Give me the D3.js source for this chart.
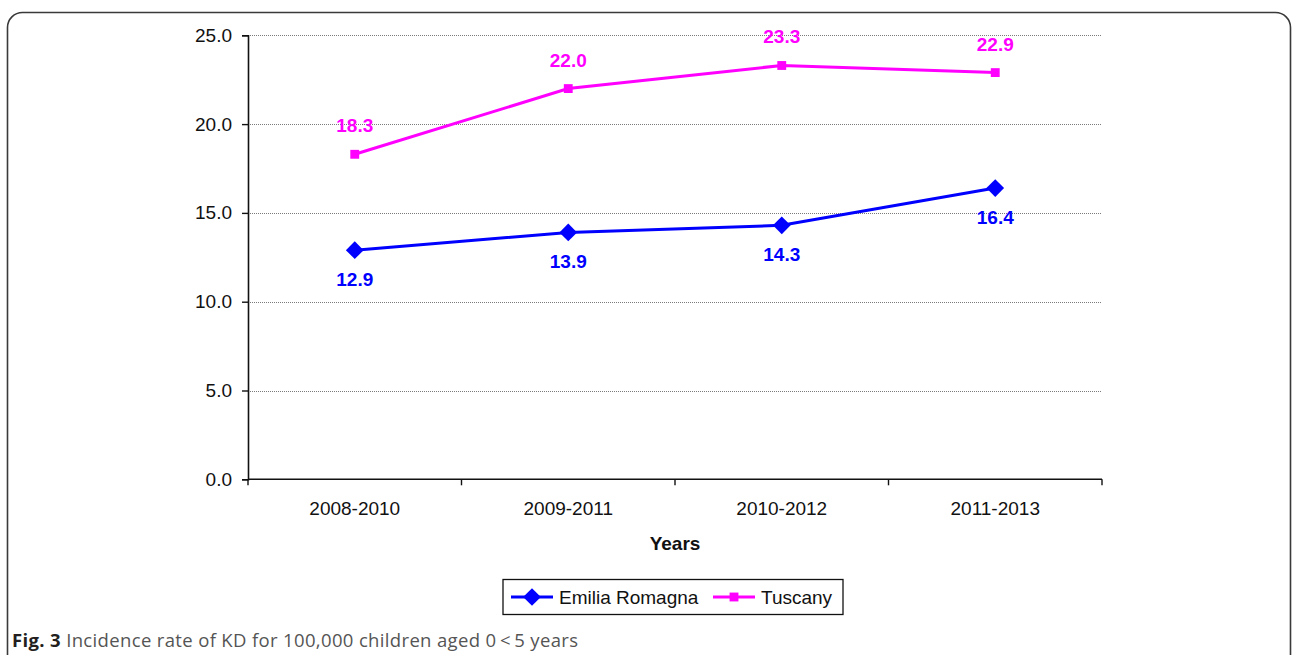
<!DOCTYPE html>
<html>
<head>
<meta charset="utf-8">
<script src="https://cdn.jsdelivr.net/npm/d3@7"></script>
<style>
  html, body { margin: 0; padding: 0; background: #fff; }
  svg { display: block; }
</style>
</head>
<body>
<svg id="chart" width="1292" height="655"></svg>
<script>
// Incidence of KD per 100,000 children aged 0 < 5 years, three-year moving windows
const periods = ["2008-2010", "2009-2011", "2010-2012", "2011-2013"];
const emiliaRomagna = [12.9, 13.9, 14.3, 16.4];
const tuscany = [18.3, 22.0, 23.3, 22.9];
const yTicks = [0, 5, 10, 15, 20, 25];
const seriesNames = ["Emilia Romagna", "Tuscany"];

const svg = d3.select("#chart");
const font = "'Liberation Sans', Arial, Helvetica, sans-serif";

// rounded figure frame
svg.append("rect")
  .attr("x", 7.5).attr("y", 12.5)
  .attr("width", 1283).attr("height", 700)
  .attr("rx", 15).attr("ry", 15)
  .attr("fill", "none")
  .attr("stroke", "#3a3a3a")
  .attr("stroke-width", 1.6);

const plot = { left: 248, right: 1102, top: 35.3, bottom: 479.3 };

const x = d3.scaleBand().domain(periods).range([plot.left, plot.right]).padding(0);
const y = d3.scaleLinear().domain([0, 25]).range([plot.bottom, plot.top]);

// dotted horizontal gridlines
svg.append("g")
  .selectAll("line")
  .data(yTicks.filter(t => t > 0))
  .join("line")
  .attr("x1", plot.left).attr("x2", plot.right - 1)
  .attr("y1", d => Math.round(y(d)) + 0.5).attr("y2", d => Math.round(y(d)) + 0.5)
  .attr("stroke", "#7a7a7a")
  .attr("stroke-width", 1)
  .attr("stroke-dasharray", "1,1");

// y axis
const yAxis = svg.append("g")
  .attr("transform", `translate(${plot.left},0)`)
  .call(d3.axisLeft(y).tickValues(yTicks).tickFormat(d3.format(".1f")).tickSize(6).tickPadding(10));
yAxis.selectAll("text").attr("font-family", font).attr("font-size", 19).attr("fill", "#111");

// x axis with tick marks at band boundaries
const xAxisG = svg.append("g").attr("transform", `translate(0,${plot.bottom})`);
xAxisG.append("line")
  .attr("x1", plot.left).attr("x2", plot.right)
  .attr("stroke", "#111").attr("stroke-width", 1.6);
const boundaries = periods.map(p => x(p)).concat([x(periods[periods.length - 1]) + x.bandwidth()]);
xAxisG.selectAll("line.tick")
  .data(boundaries)
  .join("line")
  .attr("class", "tick")
  .attr("x1", d => d).attr("x2", d => d)
  .attr("y1", 0).attr("y2", 6)
  .attr("stroke", "#111").attr("stroke-width", 1.4);
xAxisG.selectAll("text")
  .data(periods)
  .join("text")
  .attr("x", d => x(d) + x.bandwidth() / 2)
  .attr("y", 36)
  .attr("text-anchor", "middle")
  .attr("font-family", font).attr("font-size", 19).attr("fill", "#111")
  .text(d => d);

yAxis.select(".domain").attr("stroke", "#111").attr("stroke-width", 1.6);
yAxis.selectAll(".tick line").attr("stroke", "#111").attr("stroke-width", 1.4);

// x axis title
svg.append("text")
  .attr("x", (plot.left + plot.right) / 2)
  .attr("y", 550)
  .attr("text-anchor", "middle")
  .attr("font-family", font).attr("font-size", 19).attr("font-weight", "bold")
  .attr("fill", "#111")
  .text("Years");

const cx = d => x(d) + x.bandwidth() / 2;
const line = d3.line().x(d => cx(d.p)).y(d => y(d.v));

const series = [
  { name: seriesNames[0], values: emiliaRomagna, color: "#0000ff", marker: "diamond", labelDy: 36 },
  { name: seriesNames[1], values: tuscany, color: "#ff00ff", marker: "square", labelDy: -22 }
];

const diamondSym = d3.symbol().type(d3.symbolDiamond2).size(200);
const squareSym = d3.symbol().type(d3.symbolSquare2).size(100);

series.forEach(s => {
  const pts = s.values.map((v, i) => ({ p: periods[i], v }));
  svg.append("path")
    .datum(pts)
    .attr("d", line)
    .attr("fill", "none")
    .attr("stroke", s.color)
    .attr("stroke-width", 3);
  svg.append("g")
    .selectAll("path")
    .data(pts)
    .join("path")
    .attr("transform", d => `translate(${cx(d.p)},${y(d.v)})`)
    .attr("d", s.marker === "diamond" ? diamondSym() : squareSym())
    .attr("fill", s.color);
  svg.append("g")
    .selectAll("text")
    .data(pts)
    .join("text")
    .attr("x", d => cx(d.p))
    .attr("y", d => y(d.v) + s.labelDy)
    .attr("text-anchor", "middle")
    .attr("font-family", font).attr("font-size", 19).attr("font-weight", "bold")
    .attr("fill", s.color)
    .text(d => d3.format(".1f")(d.v));
});

// legend
const legend = svg.append("g");
legend.append("rect")
  .attr("x", 503).attr("y", 579.5)
  .attr("width", 340).attr("height", 35)
  .attr("fill", "#fff").attr("stroke", "#111").attr("stroke-width", 1.3);
const legendItems = [
  { s: series[0], x0: 511, tx: 559 },
  { s: series[1], x0: 713, tx: 761 }
];
legendItems.forEach(({ s, x0, tx }) => {
  legend.append("line")
    .attr("x1", x0).attr("x2", x0 + 42)
    .attr("y1", 597).attr("y2", 597)
    .attr("stroke", s.color).attr("stroke-width", 3);
  legend.append("path")
    .attr("transform", `translate(${x0 + 21},597)`)
    .attr("d", s.marker === "diamond" ? diamondSym() : squareSym())
    .attr("fill", s.color);
  legend.append("text")
    .attr("x", tx).attr("y", 604)
    .attr("font-family", font).attr("font-size", 19).attr("fill", "#111")
    .text(s.name);
});

// figure caption
const caption = svg.append("text")
  .attr("x", 12).attr("y", 647)
  .attr("font-family", "'Open Sans', 'Noto Sans', sans-serif")
  .attr("font-size", 18.5)
  .attr("textLength", 566)
  .attr("lengthAdjust", "spacing");
caption.append("tspan").attr("font-weight", "bold").attr("fill", "#231f20").text("Fig. 3");
caption.append("tspan").attr("fill", "#555").text(" Incidence rate of KD for 100,000 children aged 0\u2009<\u20095 years");
</script>
</body>
</html>
